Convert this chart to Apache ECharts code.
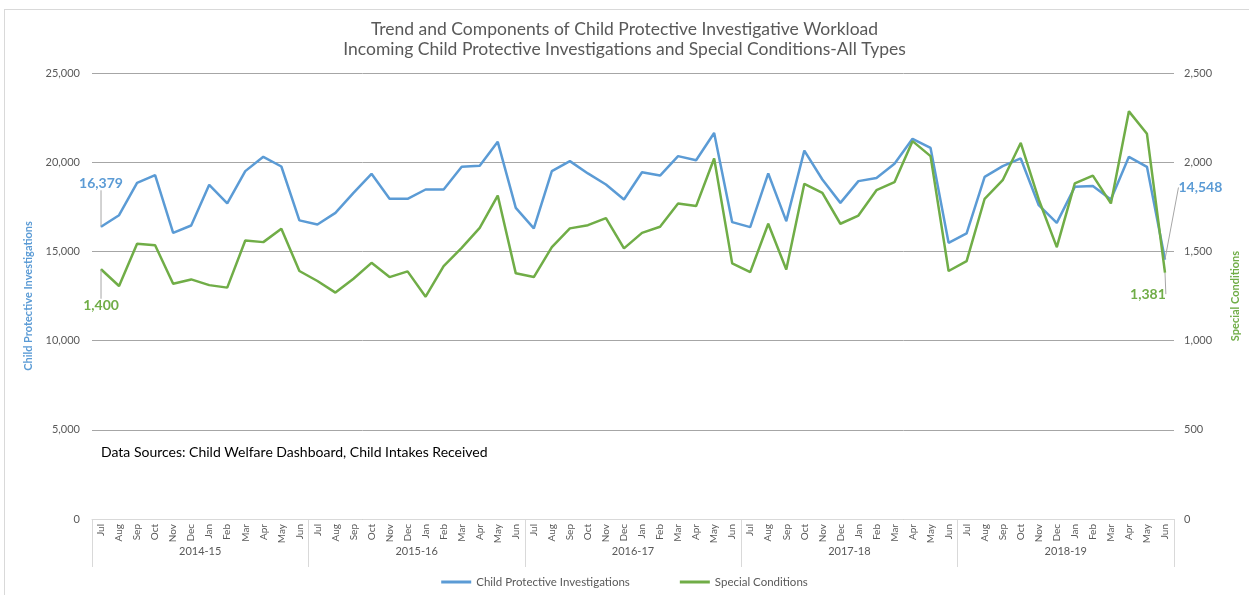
<!DOCTYPE html>
<html>
<head>
<meta charset="utf-8">
<script src="https://cdn.jsdelivr.net/npm/echarts@6/dist/echarts.min.js"></script>
<style>
  body { margin: 0; background: #fff; }
  .frame {
    position: absolute;
    left: 4px;
    top: 9px;
    width: 1260px;
    height: 600px;
    border: 1px solid #d9d9d9;
  }
  #chart {
    position: absolute;
    left: 0;
    top: 0;
    width: 1249px;
    height: 595px;
  }
</style>
</head>
<body>
<div class="frame"></div>
<div id="chart"></div>
<script>
// month labels for each fiscal year, Jul..Jun
const months = ["Jul", "Aug", "Sep", "Oct", "Nov", "Dec", "Jan", "Feb", "Mar", "Apr", "May", "Jun"];
const years = ["2014-15", "2015-16", "2016-17", "2017-18", "2018-19"];

// Child Protective Investigations (left axis)
const investigations = [
  16379, 17030, 18840, 19270, 16040, 16450, 18730, 17690, 19500, 20300, 19760, 16740,
  16510, 17160, 18280, 19350, 17950, 17950, 18470, 18470, 19740, 19800, 21140, 17440,
  16290, 19500, 20060, 19370, 18750, 17910, 19440, 19250, 20340, 20110, 21640, 16640,
  16360, 19370, 16700, 20650, 19030, 17720, 18940, 19120, 19910, 21310,
  20800, 15480, 16010, 19180, 19780, 20210, 17590, 16600, 18620, 18660, 17910, 20300, 19740, 14548
];

// Special Conditions (right axis)
const specialConditions = [
  1400, 1306, 1543, 1534, 1319, 1343, 1311, 1297, 1561, 1552, 1627, 1390,
  1334, 1269, 1347, 1436, 1356, 1388, 1246, 1418, 1520, 1632, 1813, 1377,
  1356, 1524, 1629, 1647, 1687, 1517, 1604, 1638, 1769, 1754, 2021, 1433,
  1384, 1655, 1399, 1879, 1828, 1655, 1701, 1843, 1888, 2118,
  2034, 1390, 1446, 1795, 1899, 2108, 1791, 1524, 1881, 1925, 1769, 2285, 2159, 1381
];

const BLUE = "#5b9bd5";
const GREEN = "#70ad47";
const GREY = "#595959";
const FONT = "Lato";

// one category per month, 5 fiscal years
const monthCats = [];
years.forEach((y) => months.forEach((m) => monthCats.push(y + " " + m)));

const fmt = (v) => v.toLocaleString("en-US");
const last = monthCats.length - 1;

// only the first and last point carry a value label
function withEndLabels(values, color, firstPos, lastPos) {
  return values.map((v, i) => {
    if (i !== 0 && i !== last) return v;
    return {
      value: v,
      label: {
        show: true,
        position: i === 0 ? firstPos : lastPos,
        formatter: fmt(v),
        color: color,
        fontWeight: "bold",
        fontSize: 14,
        fontFamily: FONT,
      },
    };
  });
}

const chart = echarts.init(document.getElementById("chart"));
chart.setOption({
  textStyle: { fontFamily: FONT },
  animation: false,
  title: {
    text: "Trend and Components of Child Protective Investigative Workload\nIncoming Child Protective Investigations and Special Conditions-All Types",
    left: "center",
    top: 14,
    textStyle: {
      fontFamily: FONT,
      fontSize: 17.5,
      fontWeight: "normal",
      color: GREY,
      lineHeight: 20,
    },
  },
  grid: { left: 92, right: 72, top: 73, bottom: 76 },
  legend: {
    bottom: 2,
    left: "center",
    icon: "rect",
    itemWidth: 30,
    itemHeight: 3,
    itemGap: 50,
    textStyle: { color: GREY, fontSize: 11.5, fontFamily: FONT },
    data: ["Child Protective Investigations", "Special Conditions"],
  },
  graphic: [
    {
      type: "text",
      left: 101,
      top: 445,
      style: {
        text: "Data Sources: Child Welfare Dashboard, Child Intakes Received",
        fill: "#000",
        font: "14px Lato",
      },
    },
  ],
  xAxis: [
    {
      type: "category",
      data: monthCats,
      boundaryGap: true,
      axisLine: { lineStyle: { color: "#d9d9d9" } },
      axisTick: { show: false },
      axisLabel: {
        interval: 0,
        rotate: 90,
        margin: 5,
        fontSize: 10,
        color: GREY,
        formatter: (v) => v.split(" ")[1],
      },
    },
    {
      type: "category",
      data: years,
      position: "bottom",
      boundaryGap: true,
      axisLine: { show: false },
      axisTick: {
        show: true,
        length: 48,
        interval: 0,
        lineStyle: { color: "#d9d9d9" },
      },
      axisLabel: { margin: 27, fontSize: 11, color: GREY },
    },
  ],
  yAxis: [
    {
      type: "value",
      min: 0,
      max: 25000,
      interval: 5000,
      name: "Child Protective Investigations",
      nameLocation: "middle",
      nameGap: 58,
      nameTextStyle: { color: BLUE, fontWeight: "bold", fontSize: 11 },
      axisLine: { show: false },
      axisTick: { show: false },
      axisLabel: { color: GREY, fontSize: 11, margin: 12, formatter: fmt },
      splitLine: { lineStyle: { color: "#a6a6a6" } },
    },
    {
      type: "value",
      min: 0,
      max: 2500,
      interval: 500,
      name: "Special Conditions",
      nameLocation: "middle",
      nameGap: 56,
      nameTextStyle: { color: GREEN, fontWeight: "bold", fontSize: 11 },
      axisLine: { show: false },
      axisTick: { show: false },
      axisLabel: { color: GREY, fontSize: 11, margin: 10, formatter: fmt },
      splitLine: { show: false },
    },
  ],
  series: [
    {
      name: "Child Protective Investigations",
      type: "line",
      yAxisIndex: 0,
      showSymbol: true,
      symbol: "circle",
      symbolSize: 1,
      lineStyle: { color: BLUE, width: 2.5 },
      itemStyle: { color: BLUE },
      data: withEndLabels(investigations, BLUE, "top", "right"),
      labelLayout: (p) =>
        p.dataIndex === 0 ? { dy: -31 } : { dx: 8, dy: -72 },
      labelLine: { show: true, lineStyle: { color: "#a6a6a6", width: 1 } },
    },
    {
      name: "Special Conditions",
      type: "line",
      yAxisIndex: 1,
      showSymbol: true,
      symbol: "circle",
      symbolSize: 1,
      lineStyle: { color: GREEN, width: 2.5 },
      itemStyle: { color: GREEN },
      data: withEndLabels(specialConditions, GREEN, "bottom", "bottom"),
      labelLayout: (p) =>
        p.dataIndex === 0 ? { dy: 24 } : { dx: -17, dy: 9 },
      labelLine: { show: true, lineStyle: { color: "#a6a6a6", width: 1 } },
    },
  ],
});
</script>
</body>
</html>
